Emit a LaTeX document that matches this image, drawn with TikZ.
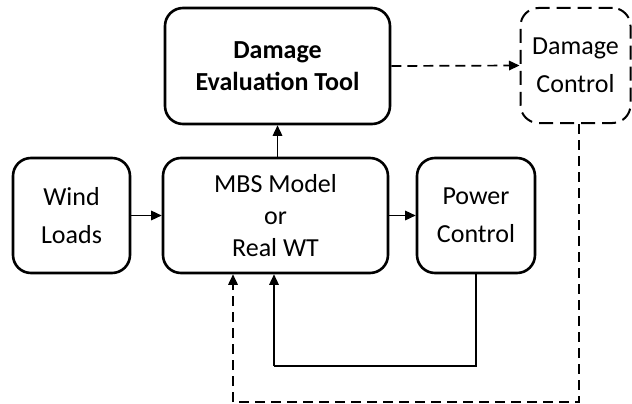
\documentclass[tikz,border=0pt]{standalone}
\usepackage{fontspec}
\setmainfont{Carlito}
\usetikzlibrary{arrows.meta,calc}
\tikzset{
  blk/.style={draw=black, line width=2.6pt, rounded corners=18pt, fill=white, align=center, inner sep=0pt},
  smallfont/.style={font=\fontsize{26}{38}\selectfont},
  bigfont/.style={font=\fontsize{26}{32}\selectfont},
  dashblk/.style={draw=black, line width=2pt, rounded corners=18pt, dash pattern=on 14pt off 7pt, align=center, inner sep=0pt},
  tipA/.style={-{Triangle[length=10.5pt,width=9.5pt]}},
  conn/.style={line width=1.5pt, tipA},
  plainconn/.style={line width=1.5pt},
  dashconn/.style={line width=1.7pt, dash pattern=on 10pt off 6pt},
}
\begin{document}
\begin{tikzpicture}[x=1pt,y=-1pt]
\useasboundingbox (0,0) rectangle (632,404);
\node[blk, smallfont, minimum width=117pt, minimum height=115pt] (wind) at (71.5,215.5) {Wind\\Loads};
\node[blk, bigfont, minimum width=225pt, minimum height=115pt] (mbs) at (275.5,215.5) {MBS Model\\or\\Real WT};
\node[blk, minimum width=225pt, minimum height=116pt, font=\fontsize{26}{32}\selectfont\bfseries] (det) at (277.5,66) {Damage\\Evaluation Tool};
\node[blk, smallfont, minimum width=118pt, minimum height=115pt] (power) at (476,215.5) {Power\\Control};
\node[dashblk, smallfont, minimum width=110pt, minimum height=115pt] (dc) at (575.5,65.5) {Damage\\Control};
\coordinate (d1) at (579,402);
\coordinate (d2) at (233,402);
\coordinate (f1) at (274,366);
\draw[conn] (wind.east) -- (mbs.west);
\draw[conn] (mbs.east) -- (power.west);
\draw[conn] (det.south |- mbs.north) -- (det.south);
\draw[dashconn, tipA] (det.east) -- (dc.west);
\draw[plainconn] (power.south) -- (power.south |- f1) -- (f1);
\draw[conn] (f1) -- (f1 |- mbs.south);
\draw[dashconn] (dc.south -| d1) -- (d1) -- (d2);
\draw[dashconn, tipA] (d2) -- (d2 |- mbs.south);
\end{tikzpicture}
\end{document}
